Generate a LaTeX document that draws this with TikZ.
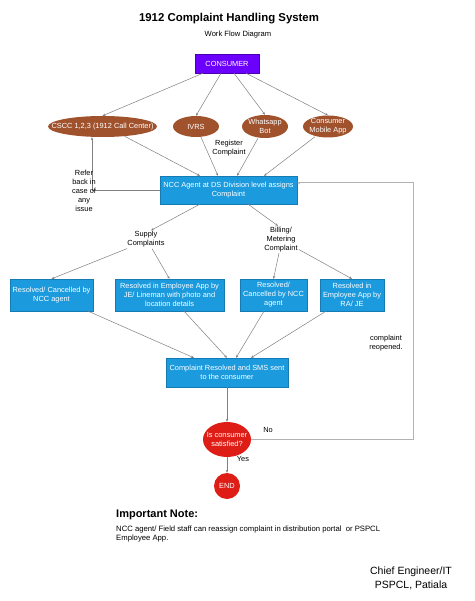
\documentclass[tikz,border=0pt]{standalone}
\usepackage{fontspec}
\setmainfont{Liberation Sans}
\usetikzlibrary{shapes.geometric,arrows.meta}

\definecolor{consumerpurple}{RGB}{108,0,255}
\definecolor{channelbrown}{RGB}{160,82,45}
\definecolor{stepblue}{RGB}{27,154,222}
\definecolor{decisionred}{RGB}{222,30,22}
\definecolor{flowgray}{RGB}{128,128,128}

\tikzset{
  boxtext/.style={font=\fontsize{7.4}{9}\selectfont, text=white, align=center, inner sep=1pt},
  consumerbox/.style={boxtext, fill=consumerpurple, draw=consumerpurple!70!black, minimum width=64pt, minimum height=19pt},
  channel/.style={ellipse, fill=channelbrown, minimum height=21pt, inner sep=0pt,
    label={[boxtext]center:#1}},
  stepbox/.style={boxtext, fill=stepblue, draw=stepblue!80!black, line width=0.3pt, minimum height=32pt},
  decision/.style={ellipse, fill=decisionred, inner sep=0pt, label={[boxtext]center:#1}},
  flowlabel/.style={font=\fontsize{7.4}{9}\selectfont, align=center, inner sep=1pt},
  flow/.style={draw=flowgray, line width=0.5pt, -{Stealth[length=3pt,width=2.4pt]}},
  loopline/.style={draw=gray!60, line width=1pt, -{Stealth[length=3pt,width=2.4pt]}}
}

\begin{document}
\begin{tikzpicture}[x=1pt,y=-1pt]

\useasboundingbox[fill=white] (0,0) rectangle (474,601);

% Heading:
\node[font=\fontsize{11.4}{13}\selectfont\bfseries] (title) at (229,19) {1912 Complaint Handling System};
\node[font=\fontsize{7.6}{9}\selectfont] (subtitle) at (238,35) {Work Flow Diagram};

% Consumer and channels:
\node[consumerbox] (consumer) at (227,63.5) {CONSUMER};
\node[channel={CSCC 1,2,3 (1912 Call Center)}, minimum width=109pt] (cscc) at (102.5,126.5) {};
\node[channel={IVRS}, minimum width=46pt] (ivrs) at (196,126.5) {};
\node[channel={Whatsapp\\Bot}, minimum width=46pt, minimum height=23pt] (whatsapp) at (265,126.5) {};
\node[channel={Consumer\\Mobile App}, minimum width=50pt, minimum height=22pt] (mobile) at (328,126.5) {};

\draw[flow] ([xshift=-24pt]consumer.south) -- (cscc.north);
\draw[flow] ([xshift=-6pt]consumer.south) -- (ivrs.north);
\draw[flow] ([xshift=7pt]consumer.south) -- (whatsapp.north);
\draw[flow] ([xshift=19pt]consumer.south) -- (mobile.north);

% Assignment:
\node[stepbox, minimum width=137pt, minimum height=28pt] (ncc) at (228.5,190) {NCC Agent at DS Division level assigns\\Complaint};
\node[flowlabel] (register) at (229,148.5) {Register\\Complaint};

\draw[flow] ([xshift=22pt,yshift=1pt]cscc.south) -- ([xshift=-28.5pt]ncc.north);
\draw[flow] ([xshift=5pt]ivrs.south) -- ([xshift=-10.5pt]ncc.north);
\draw[flow] ([xshift=-7pt]whatsapp.south) -- ([xshift=8.5pt]ncc.north);
\draw[flow] ([xshift=-13pt,yshift=1pt]mobile.south) -- ([xshift=35.5pt]ncc.north);

% Refer back line:
\draw[flow] (ncc.west) -| ([xshift=-10.5pt]cscc.south);
\node[flowlabel] (refer) at (84,190.5) {Refer\\back in\\case of\\any\\issue};

% Complaint types:
\node[flowlabel] (supply) at (146,239.5) {Supply\\Complaints};
\node[flowlabel] (billing) at (281,239.5) {Billing/\\Metering\\Complaint};
\draw[flow] ([xshift=-28.5pt]ncc.south) -- ([xshift=5pt]supply.north);
\draw[flow] ([xshift=19.5pt]ncc.south) -- ([xshift=-3pt]billing.north);

% Resolution boxes:
\node[stepbox, minimum width=83pt] (cancelsupply) at (51.5,295) {Resolved/ Cancelled by\\NCC agent};
\node[stepbox, minimum width=109pt] (appsupply) at (169.5,295) {Resolved in Employee App by\\JE/ Lineman with photo and\\location details};
\node[stepbox, minimum width=67pt] (cancelbilling) at (273.5,295) {Resolved/\\Cancelled by NCC\\agent};
\node[stepbox, minimum width=64pt] (appbilling) at (352,295) {Resolved in\\Employee App by\\RA/ JE};

\draw[flow] ([xshift=-19pt]supply.south) -- (cancelsupply.north);
\draw[flow] ([xshift=6pt]supply.south) -- (appsupply.north);
\draw[flow] ([xshift=-2pt]billing.south) -- (cancelbilling.north);
\draw[flow] ([yshift=-10pt]billing.east) -- (appbilling.north);

% Closing:
\node[stepbox, minimum width=122pt, minimum height=29pt] (resolved) at (227,372.5) {Complaint Resolved and SMS sent\\to the consumer};
\draw[flow] ([xshift=36.5pt]cancelsupply.south) -- ([xshift=-33pt]resolved.north);
\draw[flow] ([xshift=14.5pt]appsupply.south) -- (resolved.north);
\draw[flow] ([xshift=-9.5pt]cancelbilling.south) -- ([xshift=9pt]resolved.north);
\draw[flow] ([xshift=-26pt]appbilling.south) -- ([xshift=24pt]resolved.north);

\node[decision={Is consumer\\satisfied?}, minimum width=48pt, minimum height=35pt] (satisfied) at (227,439.5) {};
\node[decision={END}, circle, minimum size=26pt] (finish) at (227,486) {};
\draw[flow] (resolved.south) -- (satisfied.north);
\draw[flow] (satisfied.south) -- (finish.north);
\node[flowlabel] (yes) at (243,459) {Yes};

% Reopen loop:
\draw[loopline] (satisfied.east) -- ++(162,0) |- ([yshift=7pt]ncc.east);
\node[flowlabel] (no) at (268,430) {No};
\node[flowlabel] (reopened) at (386,343.5) {complaint\\reopened.};

% Note:
\node[font=\fontsize{11}{13}\selectfont\bfseries, anchor=west, inner sep=0pt] (notehead) at (116,515) {Important Note:};
\node[font=\fontsize{7.7}{9.5}\selectfont, align=left, anchor=north west, inner sep=0pt] (notebody) at (116,525.5) {NCC agent/ Field staff can reassign complaint in distribution portal \ or PSPCL\\Employee App.};
\node[font=\fontsize{10.5}{14}\selectfont, align=center] (signature) at (411,578) {Chief Engineer/IT\\PSPCL, Patiala};

\end{tikzpicture}
\end{document}
